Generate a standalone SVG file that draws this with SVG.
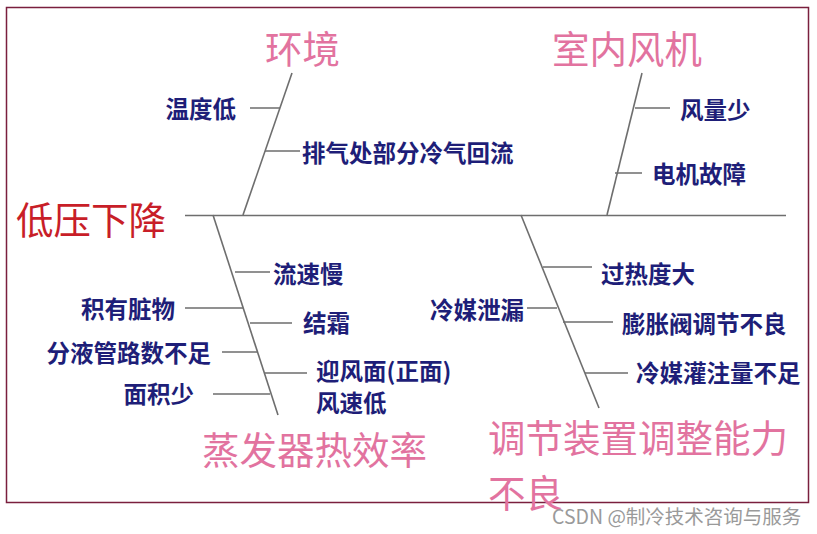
<svg xmlns="http://www.w3.org/2000/svg" width="817" height="534" viewBox="0 0 817 534">
<style>
.ln{stroke:#6e6e6e;stroke-width:1.6;fill:none}
.lb{font-family:"Noto Sans CJK SC","Liberation Sans",sans-serif;font-size:23.5px;font-weight:bold;fill:#1e1e78;dominant-baseline:central}
.cat{font-family:"Noto Sans CJK SC","Liberation Sans",sans-serif;font-size:37.5px;fill:#e2739f;dominant-baseline:central}
.head{font-family:"Noto Sans CJK SC","Liberation Sans",sans-serif;font-size:37.5px;fill:#c81e28;dominant-baseline:central}
.wm{font-family:"Noto Sans CJK SC","Liberation Sans",sans-serif;font-size:19.5px;fill:#9a9a9a;dominant-baseline:central}
.e{text-anchor:end}
</style>
<rect x="0" y="0" width="817" height="534" fill="#ffffff"/>
<rect x="6.5" y="7.5" width="802" height="495" fill="none" stroke="#7a1f3d" stroke-width="1.5"/>
<g id="connectors">
<path class="ln" d="M185 215.5H786"/>
<path class="ln" d="M243 215L292 73"/>
<path class="ln" d="M250 108H280M265 151H300"/>
<path class="ln" d="M607 215L642 73"/>
<path class="ln" d="M635 108H670M615 173H642"/>
<path class="ln" d="M213 215L278 415"/>
<path class="ln" d="M235 272H270M185 308H243M250 323H292M222 352H258M265 373H307M213 394H270"/>
<path class="ln" d="M521 215L599 408"/>
<path class="ln" d="M543 267H592M527 308H557M563 322H613M585 373H628"/>
</g>
<g id="head"><text class="head" x="16" y="217">低压下降</text></g>
<g id="env">
<text class="cat" x="265" y="46">环境</text>
<text class="lb e" x="236" y="108">温度低</text>
<text class="lb" x="302" y="152">排气处部分冷气回流</text>
</g>
<g id="fan">
<text class="cat" x="552" y="46">室内风机</text>
<text class="lb" x="680" y="109">风量少</text>
<text class="lb" x="652" y="173">电机故障</text>
</g>
<g id="evap">
<text class="cat" x="202" y="447">蒸发器热效率</text>
<text class="lb" x="273" y="273">流速慢</text>
<text class="lb e" x="175" y="308">积有脏物</text>
<text class="lb" x="303" y="322">结霜</text>
<text class="lb e" x="211" y="352">分液管路数不足</text>
<text class="lb" x="316" y="370">迎风面(正面)</text>
<text class="lb" x="316" y="402">风速低</text>
<text class="lb e" x="194" y="393">面积少</text>
</g>
<g id="valve">
<text class="cat" x="488" y="435">调节装置调整能力</text>
<text class="cat" x="488" y="490">不良</text>
<text class="lb" x="601" y="273">过热度大</text>
<text class="lb e" x="524" y="309">冷媒泄漏</text>
<text class="lb" x="622" y="323">膨胀阀调节不良</text>
<text class="lb" x="636" y="372">冷媒灌注量不足</text>
</g>
<text class="wm" x="552" y="515">CSDN @制冷技术咨询与服务</text>
</svg>
